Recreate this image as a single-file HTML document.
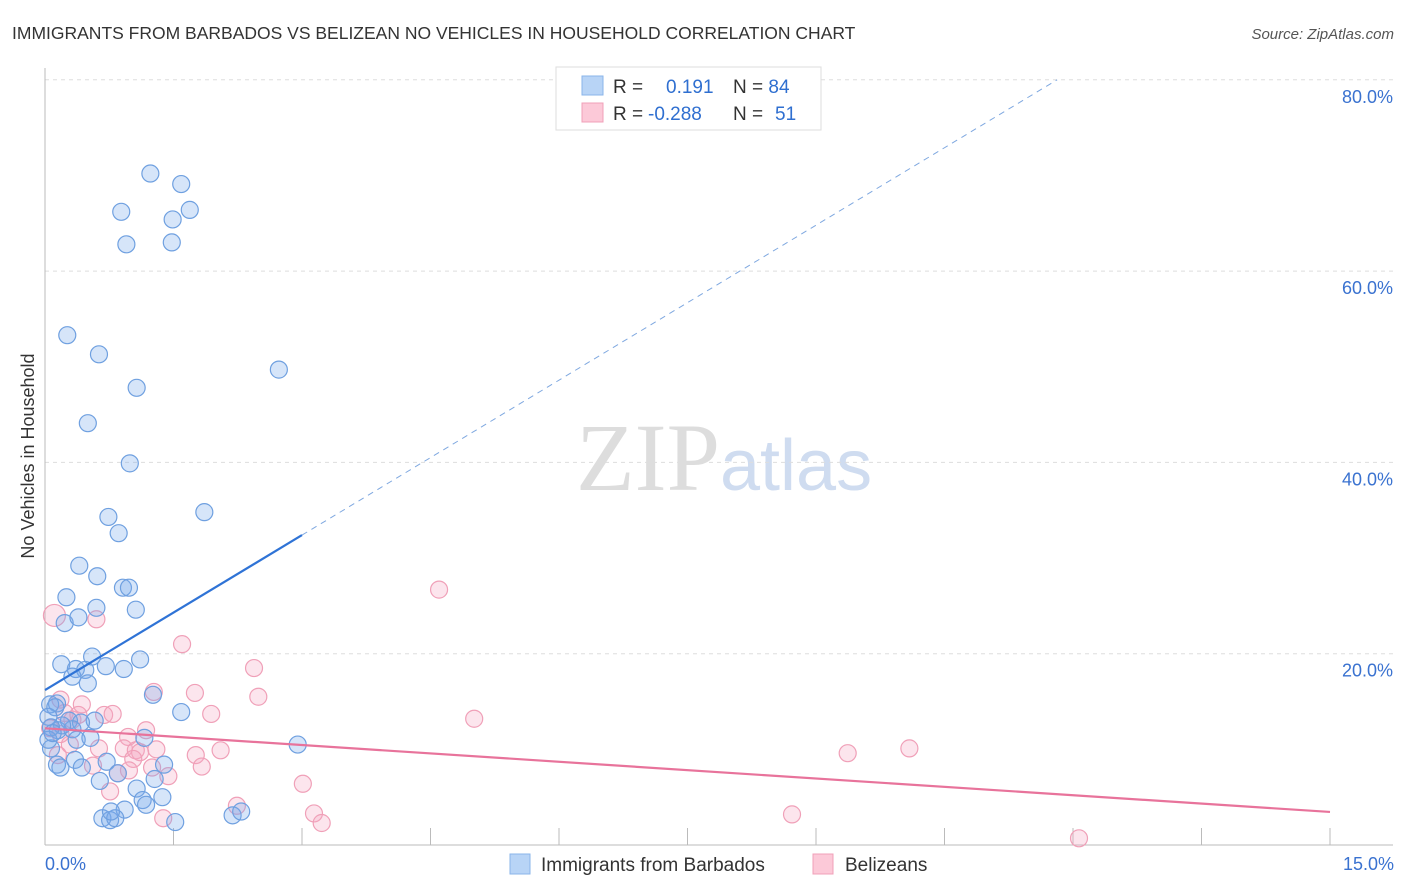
<!DOCTYPE html>
<html><head><meta charset="utf-8"><style>
body{margin:0;background:#fff;font-family:"Liberation Sans",sans-serif;}
svg{display:block}
</style></head><body>
<svg id="chart" width="1406" height="892">
<text x="12" y="39" font-size="17.5" fill="#333">IMMIGRANTS FROM BARBADOS VS BELIZEAN NO VEHICLES IN HOUSEHOLD CORRELATION CHART</text>
<text x="1394" y="39" font-size="15" fill="#555" font-style="italic" text-anchor="end">Source: ZipAtlas.com</text>
<text x="720" y="490" font-size="96" fill="#ddd" text-anchor="end" font-family="Liberation Serif,serif">ZIP</text>
<text x="720" y="490" font-size="72" fill="#cfdcf0">atlas</text>
<text transform="translate(34,456) rotate(-90)" font-size="18" fill="#333" text-anchor="middle">No Vehicles in Household</text>
<g id="grid"></g><g id="marks"></g>
<g>
<rect x="556" y="67" width="265" height="63" fill="#fff" stroke="#ddd"/>
<rect x="582" y="76" width="21" height="19" fill="#b8d4f6" stroke="#8ab4ea"/>
<rect x="582" y="103" width="21" height="19" fill="#fcc9d8" stroke="#f0a0b8"/>
<text x="613" y="93" font-size="19" fill="#333">R = <tspan x="666" fill="#2f6fd0">0.191</tspan><tspan x="733" fill="#333">N = </tspan><tspan fill="#2f6fd0">84</tspan></text>
<text x="613" y="120" font-size="19" fill="#333">R = <tspan x="648" fill="#2f6fd0">-0.288</tspan><tspan x="733" fill="#333">N = </tspan><tspan x="775" fill="#2f6fd0">51</tspan></text>
</g>
<g>
<rect x="510" y="854" width="20" height="20" fill="#b8d4f6" stroke="#8ab4ea"/>
<text x="541" y="871" font-size="19" fill="#333">Immigrants from Barbados</text>
<rect x="813" y="854" width="20" height="20" fill="#fcc9d8" stroke="#f0a0b8"/>
<text x="845" y="871" font-size="19" fill="#333">Belizeans</text>
</g>
</svg>
<script>
const blueX=[1.23,1.59,0.89,1.69,1.49,0.95,1.48,0.26,0.63,2.73,1.07,0.50,0.99,0.74,1.86,0.86,0.40,0.61,0.25,0.91,0.98,0.60,1.06,0.23,0.39,0.55,1.11,0.19,0.71,0.92,0.36,0.47,0.32,0.50,1.26,1.59,0.14,0.06,0.12,0.58,0.28,0.42,0.15,0.32,0.20,0.04,0.07,0.53,1.16,0.37,0.07,2.95,0.72,0.35,0.14,0.18,0.43,1.39,0.64,1.28,1.07,0.85,1.14,1.37,0.93,1.18,0.67,0.76,0.82,0.77,1.52,2.19,2.29,0.04,0.09];
const blueY=[70.2,69.1,66.2,66.4,65.4,62.8,63.0,53.3,51.3,49.7,47.8,44.1,39.9,34.3,34.8,32.6,29.2,28.1,25.9,26.9,26.9,24.8,24.6,23.2,23.8,19.7,19.4,18.9,18.7,18.4,18.4,18.3,17.6,16.9,15.7,13.9,14.8,14.7,14.4,13.0,13.0,12.8,12.0,12.1,12.5,13.4,12.3,11.2,11.2,11.0,10.1,10.5,8.7,8.9,8.4,8.1,8.1,8.4,6.7,6.9,5.9,7.5,4.7,5.0,3.7,4.2,2.8,2.6,2.8,3.5,2.4,3.1,3.5,11.0,11.7];
const pinkX=[0.11,0.60,4.60,1.60,2.44,1.75,1.27,2.49,5.01,1.94,0.23,0.18,0.43,0.69,0.79,1.18,0.97,0.29,0.63,0.92,1.06,1.30,1.11,1.76,2.05,1.03,0.15,9.37,10.09,0.56,0.98,1.83,1.25,1.44,0.85,0.76,3.01,2.24,3.14,3.23,1.38,8.72,12.07,0.32,0.06,0.18,0.39];
const pinkY=[24.0,23.6,26.7,21.0,18.5,15.9,16.0,15.5,13.2,13.7,13.8,15.2,14.7,13.6,13.7,12.0,11.3,10.5,10.1,10.1,9.9,10.0,9.7,9.4,9.9,9.0,9.4,9.6,10.1,8.3,7.8,8.2,8.1,7.2,7.5,5.6,6.4,4.1,3.3,2.3,2.8,3.2,0.7,13.1,12.2,11.6,13.6];
const blueTrend=[16.2,5.4];
const pinkTrend=[12.2,-0.583];
const yTicks=[20,40,60,80];
const xTickLabels=["0.0%","15.0%"];
const NS="http://www.w3.org/2000/svg";
const X0=45,X1=1330,Y0=845,YP=9.565;
const sx=v=>X0+v*(X1-X0)/15, sy=v=>Y0-v*YP;
function mk(t,a,p){const e=document.createElementNS(NS,t);for(const k in a)e.setAttribute(k,a[k]);p.appendChild(e);return e;}
const grid=document.getElementById('grid'),marks=document.getElementById('marks');
yTicks.forEach(v=>{
 const l=mk('line',{x1:X0,x2:1393,y1:sy(v),y2:sy(v),stroke:'#ddd','stroke-dasharray':'4,4'},grid);
 
 
 const t=mk('text',{x:1393,y:sy(v)+23,'font-size':18,fill:'#3a72d0','text-anchor':'end'},grid);
 t.textContent=v.toFixed(1)+'%';
 
 
});
const ya=mk('line',{x1:X0,x2:X0,y1:68,y2:Y0,stroke:'#bbb'},grid);


const xa=mk('line',{x1:X0,x2:1393,y1:Y0,y2:Y0,stroke:'#bbb'},grid);


for(let i=1;i<=10;i++){
 const tk=mk('line',{x1:sx(i*1.5),x2:sx(i*1.5),y1:Y0,y2:Y0-17,stroke:'#bbb'},grid);
 
 
}
[[0,xTickLabels[0],'start',45],[15,xTickLabels[1],'end',1394]].forEach(d=>{
 const t=mk('text',{x:d[3],y:870,'font-size':18,fill:'#3a72d0','text-anchor':d[2]},grid);
 t.textContent=d[1];
 
 
});
pinkX.forEach((x,i)=>{
 const c=mk('circle',{cx:sx(x),cy:sy(pinkY[i]),r:i===0?11:8.5,fill:'rgba(246,170,195,0.3)',stroke:'#f0a0b8','stroke-width':1.2},marks);
 
 
});
blueX.forEach((x,i)=>{
 const c=mk('circle',{cx:sx(x),cy:sy(blueY[i]),r:8.5,fill:'rgba(120,170,235,0.3)',stroke:'#6fa0e0','stroke-width':1.2},marks);
 
 
});
const bl=mk('line',{x1:sx(0),y1:sy(blueTrend[0]),x2:sx(3),y2:sy(blueTrend[0]+3*blueTrend[1]),stroke:'#2f73d6','stroke-width':2.2},marks);


const xe=(80-blueTrend[0])/blueTrend[1];
const bd=mk('line',{x1:sx(3),y1:sy(blueTrend[0]+3*blueTrend[1]),x2:sx(xe),y2:sy(80),stroke:'#7fa8e0','stroke-width':1,'stroke-dasharray':'6,5'},marks);


const pl=mk('line',{x1:sx(0),y1:sy(pinkTrend[0]),x2:sx(15),y2:sy(pinkTrend[0]+15*pinkTrend[1]),stroke:'#e8739b','stroke-width':2.2},marks);


</script>
</body></html>
